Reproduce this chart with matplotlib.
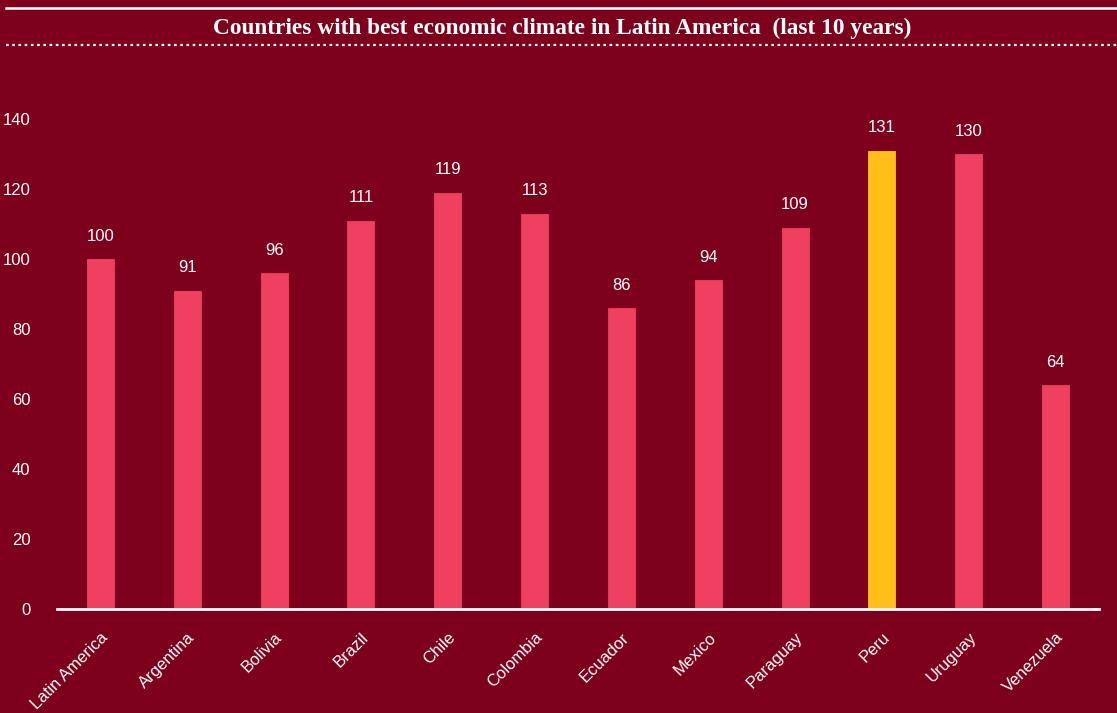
import numpy as np
import matplotlib.pyplot as plt
from matplotlib.lines import Line2D

countries = ["Latin America", "Argentina", "Bolivia", "Brazil", "Chile", "Colombia",
             "Ecuador", "Mexico", "Paraguay", "Peru", "Uruguay", "Venezuela"]
scores = [100, 91, 96, 111, 119, 113, 86, 94, 109, 131, 130, 64]
highlight = "Peru"

bg = "#7d001c"
pink = "#f0405f"
gold = "#ffbe18"

plt.rcParams['font.family'] = ['Liberation Sans', 'DejaVu Sans']

fig = plt.figure(figsize=(11.17, 7.13), dpi=100, facecolor=bg)
ax = fig.add_axes([57 / 1117, 104 / 713, (1099 - 57) / 1117, (609 - 119) / 713])
ax.set_facecolor(bg)

x = np.arange(len(countries))
colors = [gold if c == highlight else pink for c in countries]
ax.bar(x, scores, width=0.31, color=colors, edgecolor=colors, linewidth=0.6, zorder=2)

for xi, v in zip(x, scores):
    ax.annotate(str(v), (xi, v), xytext=(0, 11), textcoords="offset points",
                ha="center", va="bottom", color="white", fontsize=12)

ax.set_xlim(-0.5, len(countries) - 0.5)
ax.set_ylim(0, 140)
ax.set_yticks(range(0, 141, 20))
ax.tick_params(axis="y", length=0, labelsize=12, labelcolor="white", pad=19)
ax.set_xticks(x)
ax.set_xticklabels(countries, rotation=45, ha="right", rotation_mode="anchor",
                   color="white", fontsize=12)
ax.tick_params(axis="x", length=0, pad=15)
for s in ["top", "right", "left"]:
    ax.spines[s].set_visible(False)
ax.spines["bottom"].set_color("white")
ax.spines["bottom"].set_linewidth(2)

# header rules and title
fig.add_artist(Line2D([6 / 1117, 1], [1 - 8 / 713] * 2, color="white", lw=1.8))
fig.add_artist(Line2D([6 / 1117, 1], [1 - 45 / 713] * 2, color="white", lw=1.6,
                      linestyle=(0, (1.2, 1.6))))
fig.text(0.503, 1 - 28 / 713, "Countries with best economic climate in Latin America  (last 10 years)",
         ha="center", va="center", color="white", fontsize=16.8, fontweight="bold",
         family=["Liberation Serif", "DejaVu Serif"])

fig.savefig("out.png", dpi=100, facecolor=bg)
